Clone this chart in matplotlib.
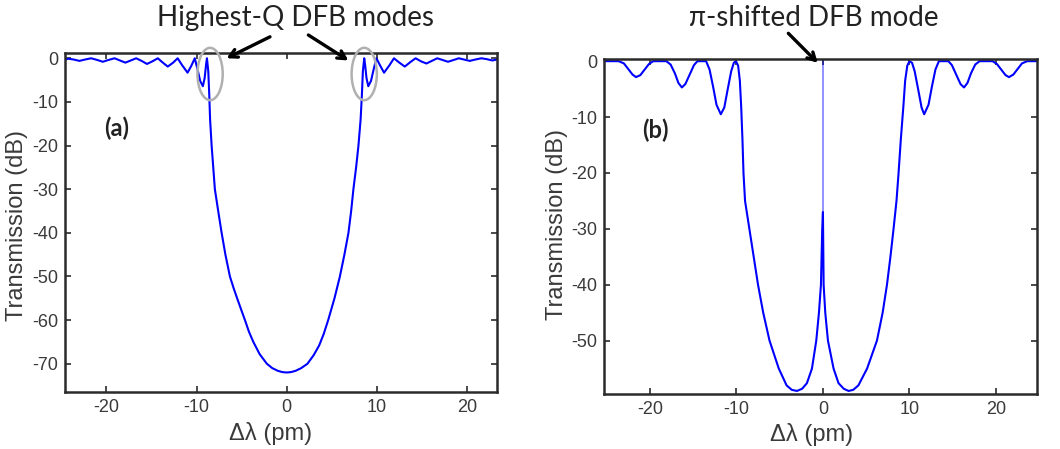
import matplotlib
matplotlib.use("Agg")
import matplotlib.pyplot as plt
from matplotlib.patches import Ellipse

# (a) two highest-Q DFB modes, transmission in dB vs detuning in pm
a_x = [-24.6, -24.2, -23.6, -23.0, -22.4, -21.7, -21.0, -20.4, -19.8, -19.1,
       -18.5, -17.9, -17.3, -16.7, -16.1, -15.5, -14.9, -14.3, -13.8, -13.2,
       -12.6, -12.1, -11.6, -11.0, -10.6, -10.2, -9.9, -9.6, -9.3, -9.1,
       -8.95, -8.85, -8.7, -8.6, -8.5, -8.33, -8.15, -7.97, -7.6, -7.22,
       -6.8, -6.3, -5.9, -5.5, -5.05, -4.63, -4.2, -3.7, -3.0, -2.2,
       -1.6, -1.0, -0.5, 0.0, 0.5, 1.0, 1.6, 2.3, 3.0, 3.6,
       4.1, 4.6, 5.3, 5.9, 6.4, 6.85, 7.15, 7.4, 7.7, 7.96,
       8.2, 8.35, 8.45, 8.6, 8.7, 8.85, 9.05, 9.35, 9.65, 9.95,
       10.4, 10.8, 11.4, 11.9, 12.5, 13.1, 13.7, 14.3, 14.9, 15.5,
       16.1, 16.7, 17.3, 17.9, 18.5, 19.1, 19.7, 20.3, 20.9, 21.6,
       22.2, 22.8, 23.3]
a_y = [-0.3, -0.1, -0.3, -0.6, -0.3, 0.0, -0.4, -0.8, -0.4, 0.0,
       -0.5, -1.0, -0.5, 0.0, -0.6, -1.3, -0.7, 0.0, -0.9, -1.9,
       -1.0, 0.0, -1.6, -3.3, -1.8, 0.0, -2.5, -5.2, -6.4, -4.5,
       -1.5, 0.0, -3.0, -8.0, -14.0, -20.0, -25.0, -30.0, -35.0, -40.0,
       -45.0, -50.0, -52.6, -55.0, -57.6, -60.0, -62.6, -65.0, -67.8, -70.0,
       -71.0, -71.6, -71.9, -72.0, -71.9, -71.6, -71.0, -70.0, -68.0, -65.8,
       -63.2, -60.0, -55.0, -50.0, -45.0, -40.0, -35.0, -30.0, -25.0, -20.0,
       -14.0, -8.0, -3.0, 0.0, -1.5, -4.5, -6.4, -5.2, -2.5, 0.0,
       -1.8, -3.3, -1.6, 0.0, -1.0, -1.9, -0.9, 0.0, -0.7, -1.2,
       -0.6, 0.0, -0.4, -0.8, -0.4, 0.0, -0.3, -0.6, -0.3, 0.0,
       -0.2, -0.5, -0.3]
a_modes = [-8.5, 8.6]

# (b) pi-shifted grating
b_x = [-25.3, -23.6, -23.0, -22.5, -22.0, -21.6, -21.1, -20.6, -20.1, -19.6,
       -18.1, -17.6, -17.1, -16.7, -16.3, -15.9, -15.4, -14.9, -14.5, -13.5,
       -13.1, -12.7, -12.3, -11.8, -11.4, -11.0, -10.6, -10.3, -10.05, -9.8,
       -9.6, -9.45, -9.3, -9.18, -9.0, -8.5, -8.0, -7.5, -6.9, -6.17,
       -5.1, -4.2, -3.6, -3.0, -2.4, -1.85, -1.27, -0.77, -0.46, -0.23,
       -0.08, 0.0,
       0.08, 0.27, 0.58, 1.23, 1.8, 2.4, 2.96, 3.5, 4.1, 5.1, 6.24, 6.9,
       7.4, 7.8, 8.16, 8.5, 8.74, 9.0, 9.3, 9.5, 9.75, 10.0,
       10.3, 10.6, 11.0, 11.4, 11.7, 12.2, 12.6, 13.0, 13.4, 14.5,
       14.9, 15.4, 15.9, 16.3, 16.7, 17.1, 17.6, 18.1, 19.6, 20.1,
       20.6, 21.1, 21.5, 22.0, 22.5, 23.0, 23.6, 24.7]
b_y = [0.0, 0.0, -0.4, -1.4, -2.4, -2.85, -2.5, -1.5, -0.5, 0.0,
       0.0, -0.6, -2.2, -3.9, -4.7, -4.1, -2.4, -0.7, 0.0, 0.0,
       -1.5, -4.5, -7.8, -9.5, -8.3, -5.0, -1.8, -0.3, 0.0, -0.8,
       -3.5, -8.0, -14.0, -20.0, -25.0, -30.0, -35.0, -40.0, -45.0, -50.0,
       -55.0, -58.0, -58.8, -59.0, -58.6, -57.6, -55.0, -50.0, -45.0, -40.0,
       -30.0, -27.0,
       -40.0, -45.0, -50.0, -55.0, -57.6, -58.6, -59.0, -58.8, -58.0, -55.0, -50.0, -45.0,
       -40.0, -35.0, -30.0, -25.0, -20.0, -14.0, -8.0, -3.5, -0.8, 0.0,
       -0.3, -1.8, -5.0, -8.3, -9.5, -7.8, -4.5, -1.5, 0.0, 0.0,
       -0.7, -2.4, -4.1, -4.7, -3.9, -2.2, -0.6, 0.0, 0.0, -0.5,
       -1.5, -2.5, -2.85, -2.4, -1.4, -0.4, 0.0, 0.0]
# unresolved narrow defect-mode peak at zero detuning
b_peak_x = [0.0, 0.0]
b_peak_y = [-27.0, 0.0]

xticks = [-20, -10, 0, 10, 20]
a_yticks = [0, -10, -20, -30, -40, -50, -60, -70]
b_yticks = [0, -10, -20, -30, -40, -50]

plt.rcParams['font.family'] = ['Liberation Sans', 'DejaVu Sans']
plt.rcParams['axes.unicode_minus'] = False
blue = '#0000ff'
axcol = '#2b2b2b'
txtcol = '#3a3a3a'
callout = ['Lato', 'DejaVu Sans']

fig = plt.figure(figsize=(10.6, 4.49), dpi=100)
ax1 = fig.add_axes([0.0613, 0.1276, 0.4073, 0.7533])
ax2 = fig.add_axes([0.5698, 0.1218, 0.4082, 0.7457])

def style(ax, yticks):
    ax.set_xticks(xticks)
    ax.set_yticks(yticks)
    ax.tick_params(direction='in', length=4, width=1.2, top=True, right=True,
                   labelsize=13, labelcolor=txtcol, color=axcol, pad=5)
    for s in ax.spines.values():
        s.set_linewidth(1.8)
        s.set_color(axcol)
    ax.set_ylabel('Transmission (dB)', fontsize=17, color=txtcol)
    ax.set_xlabel('\u0394\u03bb (pm)', fontsize=17, color=txtcol)

ax1.plot(a_x, a_y, color=blue, lw=1.5)
ax1.set_xlim(-24.6, 23.3)
ax1.set_ylim(-76.4, 1.1)
style(ax1, a_yticks)
ax1.yaxis.set_label_coords(-0.086, 0.49)
ax1.xaxis.set_label_coords(0.477, -0.089)
for m in a_modes:
    ax1.add_patch(Ellipse((m, -3.6), 2.8, 12, fill=False, ec='#b0b0b0',
                          lw=1.8, clip_on=False, zorder=3))
ax1.text(0.12, 0.778, '(a)', transform=ax1.transAxes, ha='center', va='center',
         fontsize=17, fontweight='bold', family=callout, color='#222222')

ax2.plot(b_x, b_y, color=blue, lw=1.5)
ax2.plot(b_peak_x, b_peak_y, color=blue, lw=1.2, alpha=0.5)
ax2.set_xlim(-25.3, 24.7)
ax2.set_ylim(-59.6, 0.3)
style(ax2, b_yticks)
ax2.yaxis.set_label_coords(-0.083, 0.506)
ax2.xaxis.set_label_coords(0.48, -0.087)
ax2.text(0.118, 0.789, '(b)', transform=ax2.transAxes, ha='center', va='center',
         fontsize=17, fontweight='bold', family=callout, color='#222222')

# callouts
arrow = dict(arrowstyle='->, head_length=0.55, head_width=0.3', lw=2.4,
             color='black', shrinkA=0, shrinkB=0)
fig.text(0.2792, 0.96, 'Highest-Q DFB modes', ha='center', va='center',
         fontsize=20, family=callout, color='#222222')
ax1.annotate('', xy=(-6.67, 0.0), xytext=(0.2547, 0.918),
             textcoords='figure fraction', arrowprops=arrow, annotation_clip=False)
ax1.annotate('', xy=(6.84, -0.5), xytext=(0.2909, 0.922),
             textcoords='figure fraction', arrowprops=arrow, annotation_clip=False)
fig.text(0.768, 0.96, '\u03c0-shifted DFB mode', ha='center', va='center',
         fontsize=20, family=callout, color='#222222')
ax2.annotate('', xy=(-0.6, -0.3), xytext=(0.7437, 0.9258),
             textcoords='figure fraction', arrowprops=arrow, annotation_clip=False)

fig.savefig('out.png', dpi=100)
